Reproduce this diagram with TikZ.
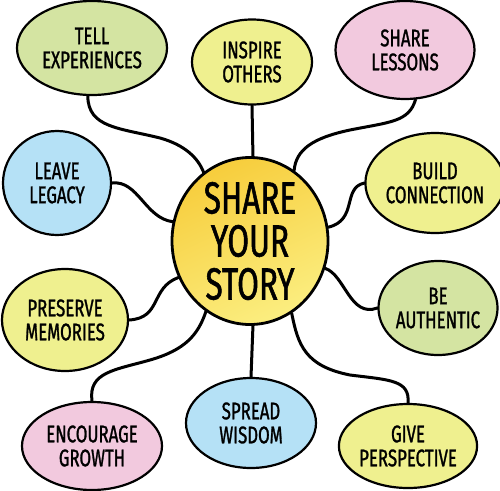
\documentclass[tikz,border=0pt]{standalone}
\usepackage{fontspec}
\newfontfamily\hand[FakeStretch=0.7,FakeBold=1.2]{Fira Sans}
\usetikzlibrary{shapes.geometric}
\definecolor{cgreen}{HTML}{D4E4A2}
\definecolor{cyellow}{HTML}{EFF08F}
\definecolor{cpink}{HTML}{F2C9DE}
\definecolor{cblue}{HTML}{B5E1F6}
\definecolor{ctop}{HTML}{F7CD3C}
\definecolor{cbot}{HTML}{FBEE80}
\tikzset{
  bubble/.style={ellipse, draw=black, line width=2.2pt, inner sep=0pt, align=center,
    font=\hand\fontsize{24}{24}\selectfont, text=black},
  link/.style={draw=black, line width=3pt, line cap=round},
}
\begin{document}
\begin{tikzpicture}[x=1pt,y=-1pt]
\useasboundingbox (0,0) rectangle (500,490);
\fill[white] (0,0) rectangle (500,490);
% central
\node[bubble, line width=2.8pt, top color=ctop, bottom color=cbot, shading angle=25, minimum width=156pt, minimum height=160pt,
  font=\hand\fontsize{45}{43}\selectfont] (c) at (250,241) {SHARE\\YOUR\\STORY};
% outer nodes
\node[bubble, fill=cgreen, minimum width=150pt, minimum height=94pt] (tell) at (92,48) {TELL\\EXPERIENCES};
\node[bubble, fill=cyellow, minimum width=120pt, minimum height=85pt] (insp) at (252,62) {INSPIRE\\OTHERS};
\node[bubble, fill=cpink, minimum width=139pt, minimum height=98pt] (share) at (405,50) {SHARE\\LESSONS};
\node[bubble, fill=cblue, minimum width=108pt, minimum height=104pt] (leave) at (57,183) {LEAVE\\LEGACY};
\node[bubble, fill=cyellow, minimum width=123pt, minimum height=100pt] (build) at (435,183) {BUILD\\CONNECTION};
\node[bubble, fill=cyellow, minimum width=126pt, minimum height=102pt] (pres) at (65,320) {PRESERVE\\MEMORIES};
\node[bubble, fill=cgreen, minimum width=117pt, minimum height=94pt] (auth) at (438,308) {BE\\AUTHENTIC};
\node[bubble, fill=cpink, minimum width=140pt, minimum height=88pt] (enc) at (92,446) {ENCOURAGE\\GROWTH};
\node[bubble, fill=cblue, minimum width=130pt, minimum height=90pt] (spread) at (251,423) {SPREAD\\WISDOM};
\node[bubble, fill=cyellow, minimum width=137pt, minimum height=84pt] (give) at (408,446) {GIVE\\PERSPECTIVE};
% connectors
\draw[link] (tell.265) .. controls (88,128) and (120,128) .. (160,138) .. controls (185,145) and (198,158) .. (c.124);
\draw[link] (insp.south) -- (c.88);
\draw[link] (share.282) .. controls (409,122) and (390,122) .. (350,130) .. controls (312,138) and (296,150) .. (c.58);
\draw[link] (leave.east) .. controls (138,180) and (145,218) .. (c.166);
\draw[link] (build.west) .. controls (342,188) and (358,220) .. (c.10);
\draw[link] (pres.east) .. controls (162,318) and (150,288) .. (c.207);
\draw[link] (auth.west) .. controls (350,318) and (345,275) .. (c.340);
\draw[link] (enc.north) .. controls (88,372) and (115,370) .. (150,360) .. controls (185,350) and (198,335) .. (c.238);
\draw[link] (spread.north) -- (c.272);
\draw[link] (give.north) .. controls (410,380) and (390,380) .. (350,375) .. controls (305,366) and (298,345) .. (c.300);
\end{tikzpicture}
\end{document}
